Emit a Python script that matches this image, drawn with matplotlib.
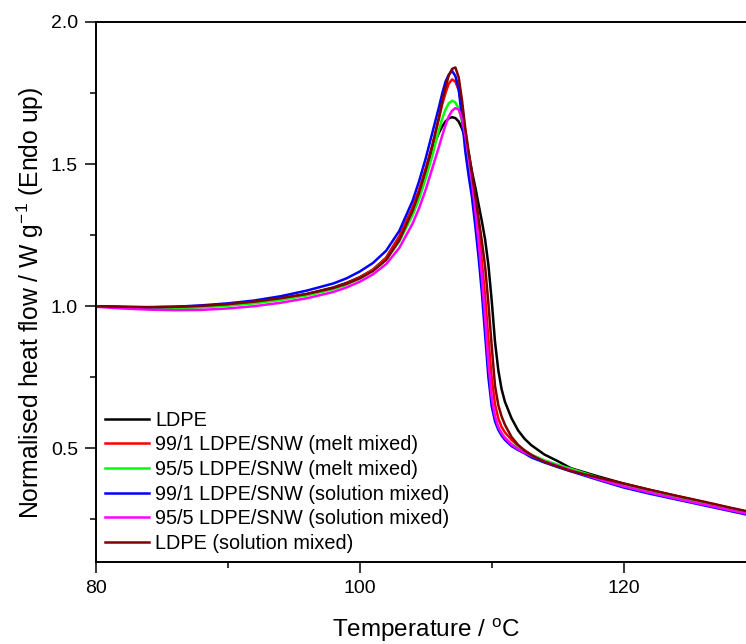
import matplotlib
matplotlib.use("Agg")
import matplotlib.pyplot as plt
from matplotlib.ticker import MultipleLocator, FormatStrFormatter

plt.rcParams['font.family'] = ['Liberation Sans', 'DejaVu Sans']
plt.rcParams['mathtext.fontset'] = 'custom'
plt.rcParams['mathtext.rm'] = 'Liberation Sans'
plt.rcParams['mathtext.it'] = 'Liberation Sans:italic'
plt.rcParams['mathtext.bf'] = 'Liberation Sans:bold'

# Temperature grid (°C)
temperature = [80, 82, 84, 86, 88, 90, 92, 94, 96, 98, 99, 100, 101, 102, 103, 104,
               104.5, 105, 105.5, 105.75, 106, 106.25, 106.5, 106.75, 107, 107.25, 107.5,
               107.75, 108, 108.25, 108.5, 108.75, 109, 109.25, 109.5, 109.75, 110, 110.25,
               110.5, 110.75, 111, 111.5, 112, 112.5, 113, 114, 115, 116, 118, 120, 122,
               124, 126, 128, 130]

ldpe = [1.000, 0.997, 0.996, 0.997, 1.000, 1.006, 1.015, 1.027, 1.043, 1.066, 1.082, 1.102,
        1.128, 1.170, 1.245, 1.345, 1.405, 1.475, 1.550, 1.583, 1.610, 1.632, 1.650, 1.661,
        1.665, 1.662, 1.650, 1.625, 1.590, 1.538, 1.475, 1.420, 1.360, 1.300, 1.235, 1.145,
        1.020, 0.875, 0.775, 0.708, 0.664, 0.606, 0.563, 0.533, 0.511, 0.478, 0.455, 0.430,
        0.402, 0.376, 0.353, 0.332, 0.311, 0.290, 0.270]

melt_99_1 = [1.000, 0.997, 0.995, 0.995, 0.998, 1.004, 1.013, 1.025, 1.041, 1.064, 1.080, 1.101,
             1.129, 1.170, 1.245, 1.345, 1.410, 1.485, 1.565, 1.612, 1.660, 1.710, 1.750, 1.783,
             1.798, 1.790, 1.760, 1.700, 1.615, 1.530, 1.450, 1.360, 1.265, 1.160, 1.035, 0.885,
             0.745, 0.655, 0.605, 0.575, 0.556, 0.530, 0.508, 0.492, 0.478, 0.454, 0.437, 0.421,
             0.396, 0.374, 0.352, 0.331, 0.311, 0.290, 0.270]

melt_95_5 = [1.000, 0.996, 0.993, 0.993, 0.996, 1.002, 1.010, 1.022, 1.038, 1.060, 1.076, 1.097,
             1.125, 1.163, 1.228, 1.320, 1.378, 1.450, 1.530, 1.577, 1.620, 1.660, 1.692, 1.714,
             1.723, 1.717, 1.695, 1.650, 1.585, 1.505, 1.420, 1.320, 1.210, 1.085, 0.930, 0.770,
             0.665, 0.605, 0.572, 0.552, 0.537, 0.515, 0.500, 0.488, 0.477, 0.458, 0.442, 0.428,
             0.398, 0.370, 0.348, 0.327, 0.307, 0.287, 0.267]

sol_99_1 = [1.000, 0.997, 0.996, 0.998, 1.003, 1.010, 1.020, 1.035, 1.055, 1.080, 1.098, 1.122,
            1.152, 1.195, 1.265, 1.370, 1.440, 1.520, 1.610, 1.655, 1.700, 1.748, 1.790, 1.815,
            1.828, 1.810, 1.765, 1.660, 1.545, 1.460, 1.385, 1.285, 1.175, 1.050, 0.900, 0.750,
            0.648, 0.595, 0.565, 0.545, 0.530, 0.508, 0.494, 0.482, 0.468, 0.450, 0.434, 0.419,
            0.390, 0.362, 0.340, 0.320, 0.300, 0.280, 0.260]

sol_95_5 = [0.998, 0.992, 0.988, 0.986, 0.987, 0.992, 1.000, 1.012, 1.028, 1.050, 1.066, 1.086,
            1.112, 1.148, 1.205, 1.290, 1.345, 1.410, 1.485, 1.523, 1.560, 1.600, 1.637, 1.668,
            1.688, 1.697, 1.692, 1.660, 1.600, 1.525, 1.440, 1.340, 1.230, 1.105, 0.960, 0.800,
            0.680, 0.612, 0.575, 0.553, 0.537, 0.513, 0.497, 0.485, 0.474, 0.454, 0.438, 0.423,
            0.393, 0.366, 0.344, 0.323, 0.303, 0.283, 0.264]

ldpe_sol = [1.000, 0.998, 0.997, 0.998, 1.001, 1.007, 1.016, 1.028, 1.043, 1.064, 1.079, 1.098,
            1.124, 1.163, 1.232, 1.335, 1.400, 1.478, 1.565, 1.615, 1.665, 1.720, 1.770, 1.812,
            1.835, 1.840, 1.805, 1.725, 1.625, 1.545, 1.470, 1.390, 1.310, 1.230, 1.140, 1.010,
            0.860, 0.720, 0.652, 0.612, 0.583, 0.540, 0.512, 0.492, 0.476, 0.452, 0.436, 0.420,
            0.398, 0.376, 0.354, 0.333, 0.313, 0.292, 0.272]

labels = ["LDPE", "99/1 LDPE/SNW (melt mixed)", "95/5 LDPE/SNW (melt mixed)",
          "99/1 LDPE/SNW (solution mixed)", "95/5 LDPE/SNW (solution mixed)",
          "LDPE (solution mixed)"]
series = [ldpe, melt_99_1, melt_95_5, sol_99_1, sol_95_5, ldpe_sol]
colors = ["#000000", "#FF0000", "#00FF00", "#0000FF", "#FF00FF", "#800000"]

W, H = 746, 644
fig = plt.figure(figsize=(W / 100, H / 100), dpi=100)
ax = fig.add_axes([95.7 / W, 82 / H, 660 / W, 540 / H])

for y, c, lab in zip(series, colors, labels):
    ax.plot(temperature, y, color=c, lw=1.8, label=lab, solid_joinstyle='round')

ax.set_xlim(80, 130)
ax.set_ylim(0.1, 2.0)
ax.xaxis.set_major_locator(MultipleLocator(20))
ax.xaxis.set_minor_locator(MultipleLocator(10))
ax.yaxis.set_major_locator(MultipleLocator(0.5))
ax.yaxis.set_minor_locator(MultipleLocator(0.25))
ax.yaxis.set_major_formatter(FormatStrFormatter('%.1f'))

for s in ax.spines.values():
    s.set_linewidth(1.4)
ax.tick_params(which='major', direction='out', length=7.7, width=1.1, labelsize=14)
ax.tick_params(which='minor', direction='out', length=4.1, width=1.1)
ax.tick_params(axis='x', which='major', pad=5.5)
ax.tick_params(axis='y', which='major', pad=5)

fig.text(425.7 / W, 7 / H, "Temperature / $^{\\mathrm{o}}$C", ha='center', va='baseline', fontsize=17.5)
fig.text(30 / W, 1 - 303 / H, "Normalised heat flow / W g$^{\\mathrm{-1}}$ (Endo up)",
         rotation=90, ha='center', va='center', fontsize=17.8)

ax.legend(loc='lower left', bbox_to_anchor=(9 / 660, 9 / 540), frameon=False,
          fontsize=14.3, handlelength=2.25, handletextpad=0.3, labelspacing=0.285,
          borderpad=0, borderaxespad=0)

fig.savefig("out.png", dpi=100)
